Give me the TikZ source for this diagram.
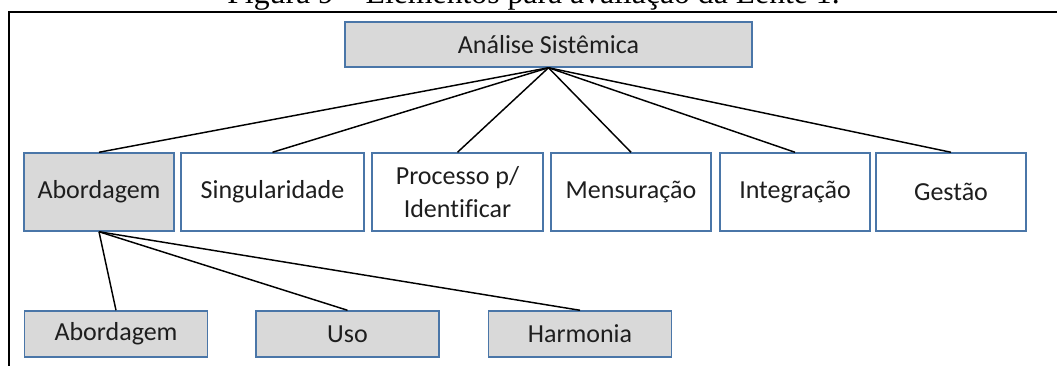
\documentclass[tikz,border=0pt]{standalone}
\usepackage{fontspec}
\setmainfont{Carlito}[Ligatures=NoCommon]
\newfontfamily\capfont{Liberation Serif}
\definecolor{boxgray}{HTML}{D9D9D9}
\definecolor{boxline}{HTML}{4A76A8}
\definecolor{txt}{HTML}{1E1E1E}
\tikzset{
  basebox/.style={draw=boxline, line width=1.1pt, inner sep=0pt, align=center,
    text=txt, font=\fontsize{19.5pt}{22pt}\selectfont},
  graybox/.style={basebox, fill=boxgray},
  whitebox/.style={basebox, fill=white},
  rowtwo/.style={minimum height=58.5pt},
  rowthree/.style={graybox, minimum height=34.5pt, minimum width=137.5pt},
  link/.style={draw=black, line width=1.1pt}
}
\begin{document}
\begin{tikzpicture}[x=0.75pt, y=-0.75pt]
\useasboundingbox (0,0) rectangle (1057,365);
% caption (partly cut off at top, as in the reference)
\node[anchor=base, inner sep=0pt, font=\capfont\fontsize{23.8pt}{26pt}\selectfont] (cap) at (533.5,3) {Figura 9 – Elementos para avaliação da Lente 1.};
% frame
\draw[line width=1.5pt] (9,366) -- (9,12) -- (1058,12);
% top node
\node[graybox, minimum width=305.25pt, minimum height=33.75pt] (top) at (548.5,44.5) {Análise Sistêmica};
% row 2
\node[graybox, rowtwo, minimum width=112.5pt] (abo) at (99,192) {Abordagem};
\node[whitebox, rowtwo, minimum width=137.25pt] (sin) at (272.5,192) {Singularidade};
\node[whitebox, rowtwo, minimum width=128.25pt, font=\fontsize{19.5pt}{24.5pt}\selectfont] (pro) at (457.5,192) {Processo p/\\Identificar};
\node[whitebox, rowtwo, minimum width=120pt] (men) at (631,192) {Mensuração};
\node[whitebox, rowtwo, minimum width=112.5pt] (int) at (795,192) {Integração};
\node[whitebox, rowtwo, minimum width=112.5pt] (ges) at (951,192) {Gestão};
% row 3
\node[rowthree] (abo2) at (116,334) {Abordagem};
\node[rowthree] (uso) at (347.5,334) {Uso};
\node[rowthree] (har) at (580,334) {Harmonia};
% connectors
\foreach \n in {abo,sin,pro,men,int,ges} \draw[link] (top.south) -- (\n.north);
\foreach \n in {abo2,uso,har} \draw[link] (abo.south) -- (\n.north);
\end{tikzpicture}
\end{document}
